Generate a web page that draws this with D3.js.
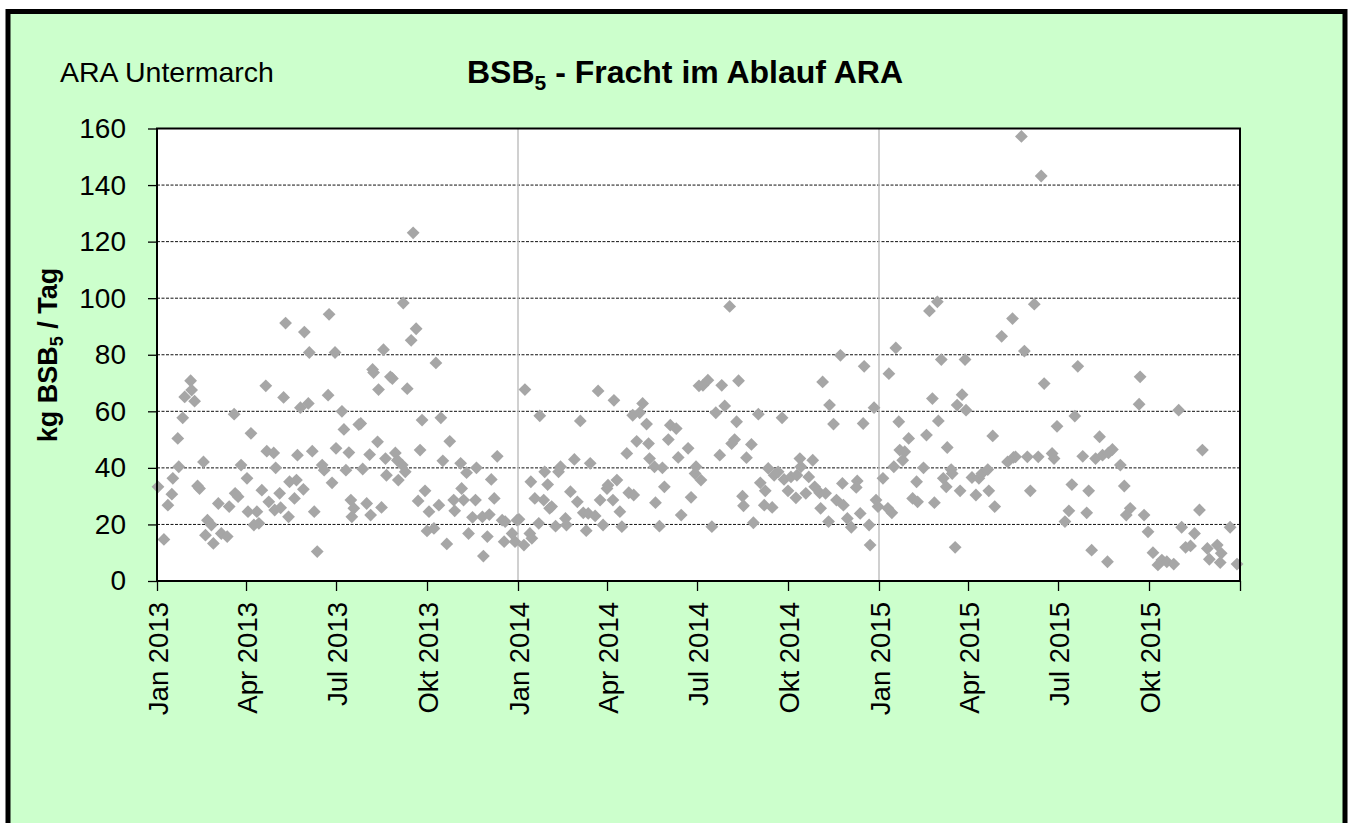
<!DOCTYPE html>
<html>
<head>
<meta charset="utf-8">
<script src="https://cdn.jsdelivr.net/npm/d3@7"></script>
<style>
  body { margin: 0; background: #fff; }
  text { font-family: "Liberation Sans", Arial, sans-serif; }
</style>
</head>
<body>
<div id="chart"></div>
<script>
var width = 1349;
var height = 823;

// sample day (days since 1 Jan 2013) and BSB5 load in kg/Tag
var sampleDays = [
  1,7,11,15,16,21,22,26,28,34,35,38,41,43,47,49,51,55,57,62,65,71,73,78,79,82,85,91,92,95,
  98,101,103,106,110,111,113,118,119,120,124,125,128,130,133,134,139,141,142,145,148,149,153,154,157,159,162,167,169,173,
  174,177,180,181,187,189,191,194,196,197,199,204,206,208,212,215,216,218,219,223,224,227,229,231,232,236,238,241,243,244,
  248,249,251,253,257,259,262,264,266,268,271,273,275,280,282,285,287,289,293,296,300,301,307,308,310,313,315,319,322,323,
  329,330,334,336,338,341,344,349,351,352,359,362,364,
  366,371,372,377,378,379,382,386,387,391,392,395,397,399,403,406,408,413,414,418,422,425,428,431,434,436,438,443,446,448,
  451,455,456,461,462,465,468,470,475,477,481,482,485,488,491,495,497,498,503,504,508,511,513,517,519,525,527,530,537,540,
  544,548,545,550,552,557,561,565,569,571,574,579,581,584,586,588,592,593,596,601,603,608,610,614,615,618,622,624,628,632,
  634,638,641,646,647,650,651,656,659,663,665,670,671,673,676,679,680,684,687,691,693,694,698,702,708,707,711,714,715,720,
  721,725,727,729,
  734,739,740,743,745,747,750,751,754,756,760,764,768,769,775,778,781,784,786,789,790,793,795,798,799,803,804,807,809,812,
  814,817,818,824,828,831,834,840,841,845,847,854,860,866,865,868,874,877,880,883,887,891,894,897,905,907,910,
  918,922,925,928,931,936,940,942,945,949,953,956,961,962,966,974,978,980,984,993,994,998,1002,1007,1012,1016,1021,1028,1033,1036,
  1040,1045,1049,1054,1057,1062,1064,1072,1076,1075,1085,1092
];
var bsbLoad = [
  33.3,14.7,26.8,30.7,36.3,50.4,40.4,57.7,65.1,70.8,67.5,63.6,33.6,32.7,42.1,16.2,21.5,19.8,13.3,27.4,16.8,15.7,26.3,59.0,31.0,29.8,41.0,36.3,24.5,52.2,
  19.8,24.5,20.4,32.1,69.0,45.9,28.0,45.3,25.1,40.0,31.0,25.9,64.9,91.2,22.7,35.1,29.2,35.7,44.5,61.3,32.4,88.0,62.8,80.8,45.9,24.5,10.4,41.0,39.2,65.7,
  94.3,34.7,80.8,46.9,60.0,53.6,39.2,45.4,28.6,22.7,25.7,55.3,55.7,39.6,27.4,44.7,23.3,74.8,73.7,49.2,67.7,26.0,81.8,43.3,37.4,72.2,71.6,45.3,42.7,35.7,
  41.0,98.3,38.6,68.0,85.1,123.1,89.2,28.3,46.3,56.9,31.9,17.7,24.5,18.6,77.1,26.8,57.7,42.5,13.1,49.4,28.6,24.8,41.6,32.7,28.6,38.3,16.8,22.5,28.6,40.0,
  22.7,8.8,15.7,23.5,35.9,29.2,44.1,21.5,13.9,21.0,16.8,13.9,21.5,
  21.8,12.7,67.7,16.8,35.1,15.1,29.2,20.4,58.4,28.6,38.6,34.1,25.7,26.3,19.4,38.6,40.4,22.1,19.8,31.6,43.0,28.0,56.6,24.1,17.8,23.9,41.6,23.0,67.2,28.6,
  19.8,32.7,33.9,28.6,63.9,35.7,24.5,19.2,45.1,31.2,58.6,30.4,49.4,59.5,62.8,55.5,48.6,43.3,40.4,27.7,19.4,40.0,33.3,50.0,55.1,53.9,43.7,23.3,46.9,29.6,
  38.0,69.0,40.4,35.7,69.2,71.0,19.2,59.5,44.5,69.2,61.9,97.1,48.6,50.0,56.3,70.8,30.0,26.6,43.6,48.3,20.6,59.0,34.7,26.8,31.9,39.8,26.0,37.4,38.6,57.7,
  35.9,31.9,36.8,29.4,37.4,43.3,40.4,31.0,36.8,42.7,33.3,31.2,25.7,70.4,31.0,21.0,62.2,55.5,28.6,79.8,34.5,26.8,22.1,19.0,35.4,33.1,23.9,55.7,75.9,19.8,
  12.7,61.3,28.6,26.3,
  36.3,25.7,73.3,24.1,40.4,82.4,56.3,46.3,42.7,45.7,50.4,29.2,35.1,28.0,40.0,51.6,95.5,64.5,27.7,98.7,56.6,78.3,36.3,33.3,47.2,39.4,38.0,11.9,62.2,31.9,
  65.9,78.3,60.4,36.6,30.4,36.3,38.0,39.4,31.9,51.3,26.3,86.5,42.1,43.7,92.8,43.9,157.2,81.3,43.9,31.9,97.9,43.9,143.2,69.8,45.1,43.3,54.7,
  21.0,24.8,34.1,58.3,75.9,44.1,24.1,31.9,10.9,43.3,51.0,44.5,6.8,45.3,46.5,41.0,33.6,23.3,25.7,62.5,72.2,23.3,17.4,10.0,5.7,7.4,6.8,6.0,60.4,19.0,
  11.9,12.4,16.8,25.1,46.3,11.5,7.7,12.7,9.8,6.5,19.0,6.0
];

var yTicks = [0, 20, 40, 60, 80, 100, 120, 140, 160];
var monthNames = ["Jan", "Feb", "Mrz", "Apr", "Mai", "Jun", "Jul", "Aug", "Sep", "Okt", "Nov", "Dez"];

var start = new Date(Date.UTC(2013, 0, 1));
var end = new Date(Date.UTC(2016, 0, 1));

var data = sampleDays.map(function(d, i) {
  return { date: d3.utcDay.offset(start, d), value: bsbLoad[i] };
});

var xScale = d3.scaleUtc()
    .domain([start, end])
    .range([157, 1240]);

var yScale = d3.scaleLinear()
    .domain([0, 160])
    .range([581, 128.5]);

var svg = d3.select("#chart").append("svg")
    .attr("width", width)
    .attr("height", height);

// green frame
svg.append("rect")
    .attr("x", 8)
    .attr("y", 11.5)
    .attr("width", 1337)
    .attr("height", 900)
    .attr("fill", "#ccffcc")
    .attr("stroke", "#000")
    .attr("stroke-width", 5);

// plot area
svg.append("rect")
    .attr("x", xScale.range()[0])
    .attr("y", yScale(160))
    .attr("width", xScale.range()[1] - xScale.range()[0])
    .attr("height", yScale(0) - yScale(160))
    .attr("fill", "#fff");

// dashed horizontal grid
svg.append("g")
  .selectAll("line")
  .data(yTicks.filter(function(t) { return t > 0 && t < 160; }))
  .enter()
  .append("line")
    .attr("x1", xScale.range()[0])
    .attr("x2", xScale.range()[1])
    .attr("y1", function(d) { return yScale(d); })
    .attr("y2", function(d) { return yScale(d); })
    .attr("stroke", "#111")
    .attr("stroke-width", 1)
    .attr("stroke-dasharray", "3,1.5");

// year separators
svg.append("g")
  .selectAll("line")
  .data([new Date(Date.UTC(2014, 0, 1)), new Date(Date.UTC(2015, 0, 1))])
  .enter()
  .append("line")
    .attr("x1", function(d) { return xScale(d); })
    .attr("x2", function(d) { return xScale(d); })
    .attr("y1", yScale(160))
    .attr("y2", yScale(0))
    .attr("stroke", "#c0c0c0")
    .attr("stroke-width", 1.5);

// diamonds
var diamond = d3.symbol().type(d3.symbolSquare).size(82);
svg.append("g")
  .selectAll("path")
  .data(data)
  .enter()
  .append("path")
    .attr("d", diamond)
    .attr("transform", function(d) {
      return "translate(" + xScale(d.date) + "," + yScale(d.value) + ") rotate(45)";
    })
    .attr("fill", "#a6a6a6");

// plot border
svg.append("rect")
    .attr("x", xScale.range()[0])
    .attr("y", yScale(160))
    .attr("width", xScale.range()[1] - xScale.range()[0])
    .attr("height", yScale(0) - yScale(160))
    .attr("fill", "none")
    .attr("stroke", "#000")
    .attr("stroke-width", 2);

// y axis
var yAxis = d3.axisLeft(yScale)
    .tickValues(yTicks)
    .tickSize(9)
    .tickPadding(22)
    .tickSizeOuter(0);

var yg = svg.append("g")
    .attr("transform", "translate(" + xScale.range()[0] + ",0)")
    .call(yAxis);
yg.select(".domain").remove();
yg.selectAll("line").attr("stroke", "#000").attr("stroke-width", 1.3);
yg.selectAll("text")
    .attr("fill", "#000")
    .style("font-size", "28px")
    .style("font-family", "'Liberation Sans', Arial, sans-serif");

// x axis
var xTicks = d3.utcMonth.every(3).range(start, d3.utcDay.offset(end, 1));
var xAxis = d3.axisBottom(xScale)
    .tickValues(xTicks)
    .tickSize(10)
    .tickSizeOuter(0)
    .tickFormat(function(d) {
      return +d === +end ? "" : monthNames[d.getUTCMonth()] + " " + d.getUTCFullYear();
    });

var xg = svg.append("g")
    .attr("transform", "translate(0," + yScale(0) + ")")
    .call(xAxis);
xg.select(".domain").remove();
xg.selectAll("line").attr("stroke", "#000").attr("stroke-width", 1.3);
xg.selectAll("text")
    .attr("fill", "#000")
    .attr("transform", "translate(1,21) rotate(-90)")
    .attr("x", 0)
    .attr("y", 0)
    .attr("dy", "0.35em")
    .style("text-anchor", "end")
    .style("font-size", "27.5px")
    .style("font-family", "'Liberation Sans', Arial, sans-serif");

// top-left label
svg.append("text")
    .attr("x", 60)
    .attr("y", 82)
    .style("font-size", "28.5px")
    .text("ARA Untermarch");

// title
var title = svg.append("text")
    .attr("x", 685)
    .attr("y", 83)
    .style("text-anchor", "middle")
    .style("font-size", "32px")
    .style("font-weight", "bold");
title.append("tspan").text("BSB");
title.append("tspan").attr("dy", 7).style("font-size", "21px").text("5");
title.append("tspan").attr("dy", -7).text(" - Fracht im Ablauf ARA");

// y axis title
var yTitle = svg.append("text")
    .attr("transform", "translate(57,355) rotate(-90)")
    .style("text-anchor", "middle")
    .style("font-size", "27px")
    .style("font-weight", "bold");
yTitle.append("tspan").text("kg BSB");
yTitle.append("tspan").attr("dy", 6).style("font-size", "18px").text("5");
yTitle.append("tspan").attr("dy", -6).text(" / Tag");
</script>
</body>
</html>
